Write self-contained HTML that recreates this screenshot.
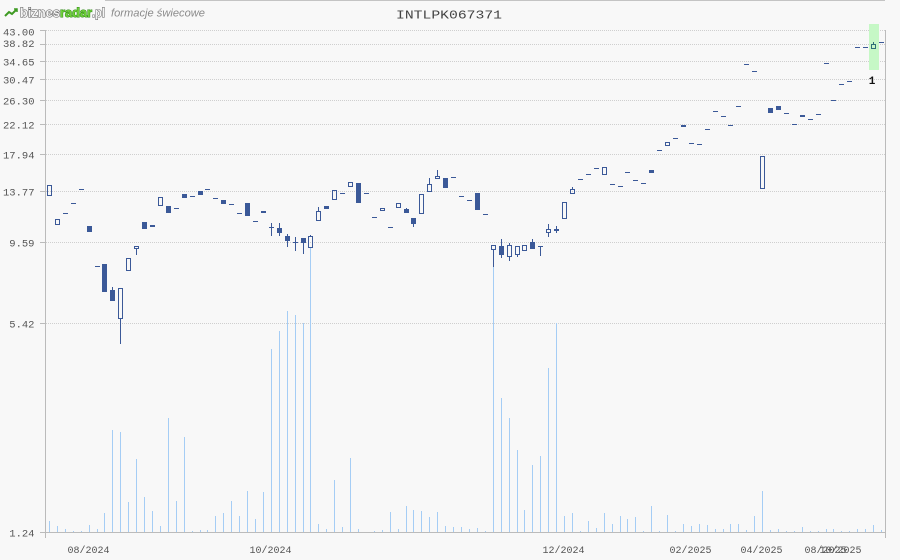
<!DOCTYPE html>
<html><head><meta charset="utf-8"><style>
html,body{margin:0;padding:0;background:#f8f8f8;}
svg{display:block;}
.m{font-family:"Liberation Mono","DejaVu Sans Mono",monospace;fill:#555;}
</style></head><body>
<svg width="900" height="560" viewBox="0 0 900 560" xmlns="http://www.w3.org/2000/svg">
<rect x="0" y="0" width="900" height="560" fill="#f8f8f8"/>
<rect x="105" y="0" width="780" height="1" fill="#c4c4c4"/>
<polyline points="5,16 9,12 12,14 17,9" fill="none" stroke="#3e9a22" stroke-width="2"/>
<polyline points="14,9 17,9 17,12" fill="none" stroke="#3e9a22" stroke-width="1.5"/>
<text x="20" y="17" font-family="Liberation Sans, sans-serif" font-weight="bold" font-size="12.5" fill="#f4f4f4" stroke="#555" stroke-width="1" paint-order="stroke" textLength="40" lengthAdjust="spacingAndGlyphs">biznes</text>
<text x="60" y="17" font-family="Liberation Sans, sans-serif" font-weight="bold" font-size="12.5" fill="#6fd03a" stroke="#2f8a16" stroke-width="1" paint-order="stroke" textLength="32" lengthAdjust="spacingAndGlyphs">radar</text>
<text x="92" y="17" font-family="Liberation Sans, sans-serif" font-weight="bold" font-size="12.5" fill="#f4f4f4" stroke="#555" stroke-width="1" paint-order="stroke" textLength="13" lengthAdjust="spacingAndGlyphs">.pl</text>
<text x="111" y="16.5" font-family="Liberation Sans, sans-serif" font-style="italic" font-size="11" fill="#8a8a8a" textLength="94" lengthAdjust="spacingAndGlyphs">formacje świecowe</text>
<text x="396" y="18.5" font-family="Liberation Mono, DejaVu Sans Mono, monospace" font-size="12" fill="#444" textLength="106" lengthAdjust="spacingAndGlyphs">INTLPK067371</text>

<g stroke="#cfcfcf" stroke-width="1" stroke-dasharray="1,1" shape-rendering="crispEdges">
<line x1="46" y1="30.5" x2="885" y2="30.5"/>
<line x1="46" y1="44.5" x2="885" y2="44.5"/>
<line x1="46" y1="61.5" x2="885" y2="61.5"/>
<line x1="46" y1="79.5" x2="885" y2="79.5"/>
<line x1="46" y1="100.5" x2="885" y2="100.5"/>
<line x1="46" y1="124.5" x2="885" y2="124.5"/>
<line x1="46" y1="154.5" x2="885" y2="154.5"/>
<line x1="46" y1="191.5" x2="885" y2="191.5"/>
<line x1="46" y1="242.5" x2="885" y2="242.5"/>
<line x1="46" y1="323.5" x2="885" y2="323.5"/>
</g>

<g fill="#bbbbbb" shape-rendering="crispEdges">
<rect x="45" y="30" width="1" height="508"/>
<rect x="885" y="30" width="1" height="508"/>
<rect x="40" y="532" width="846" height="1"/>
<rect x="40" y="30" width="5" height="1"/>
<rect x="40" y="44" width="5" height="1"/>
<rect x="40" y="61" width="5" height="1"/>
<rect x="40" y="79" width="5" height="1"/>
<rect x="40" y="100" width="5" height="1"/>
<rect x="40" y="124" width="5" height="1"/>
<rect x="40" y="154" width="5" height="1"/>
<rect x="40" y="191" width="5" height="1"/>
<rect x="40" y="242" width="5" height="1"/>
<rect x="40" y="323" width="5" height="1"/>
</g>

<g class="m" font-size="10.5" text-anchor="end">
<text x="34.5" y="35.5">43.00</text>
<text x="34.5" y="47">38.82</text>
<text x="34.5" y="65.5">34.65</text>
<text x="34.5" y="83.5">30.47</text>
<text x="34.5" y="104.5">26.30</text>
<text x="34.5" y="128.5">22.12</text>
<text x="34.5" y="158.5">17.94</text>
<text x="34.5" y="195.5">13.77</text>
<text x="34.5" y="246.5">9.59</text>
<text x="34.5" y="327.5">5.42</text>
<text x="34.5" y="536.5">1.24</text>
</g>

<g class="m" font-size="10" text-anchor="middle">
<text x="88.5" y="553">08/2024</text>
<text x="270.5" y="553">10/2024</text>
<text x="563.5" y="553">12/2024</text>
<text x="690.5" y="553">02/2025</text>
<text x="761.5" y="553">04/2025</text>
<text x="825.5" y="553">08/2025</text>
<text x="840.5" y="553">10/2025</text>
</g>

<g fill="#a5cdf5" shape-rendering="crispEdges">
<rect x="49" y="521" width="1" height="11"/>
<rect x="57" y="526" width="1" height="6"/>
<rect x="65" y="529" width="1" height="3"/>
<rect x="73" y="531" width="1" height="1"/>
<rect x="81" y="531" width="1" height="1"/>
<rect x="89" y="525" width="1" height="7"/>
<rect x="97" y="529" width="1" height="3"/>
<rect x="104" y="513" width="1" height="19"/>
<rect x="112" y="430" width="1" height="102"/>
<rect x="120" y="432" width="1" height="100"/>
<rect x="128" y="502" width="1" height="30"/>
<rect x="136" y="459" width="1" height="73"/>
<rect x="144" y="497" width="1" height="35"/>
<rect x="152" y="511" width="1" height="21"/>
<rect x="160" y="526" width="1" height="6"/>
<rect x="168" y="418" width="1" height="114"/>
<rect x="176" y="501" width="1" height="31"/>
<rect x="184" y="437" width="1" height="95"/>
<rect x="192" y="531" width="1" height="1"/>
<rect x="200" y="530" width="1" height="2"/>
<rect x="207" y="530" width="1" height="2"/>
<rect x="215" y="516" width="1" height="16"/>
<rect x="223" y="513" width="1" height="19"/>
<rect x="231" y="501" width="1" height="31"/>
<rect x="239" y="516" width="1" height="16"/>
<rect x="247" y="491" width="1" height="41"/>
<rect x="255" y="519" width="1" height="13"/>
<rect x="263" y="492" width="1" height="40"/>
<rect x="271" y="349" width="1" height="183"/>
<rect x="279" y="331" width="1" height="201"/>
<rect x="287" y="311" width="1" height="221"/>
<rect x="295" y="315" width="1" height="217"/>
<rect x="303" y="323" width="1" height="209"/>
<rect x="310" y="248" width="1" height="284"/>
<rect x="318" y="524" width="1" height="8"/>
<rect x="326" y="529" width="1" height="3"/>
<rect x="334" y="480" width="1" height="52"/>
<rect x="342" y="527" width="1" height="5"/>
<rect x="350" y="458" width="1" height="74"/>
<rect x="358" y="529" width="1" height="3"/>
<rect x="374" y="531" width="1" height="1"/>
<rect x="382" y="530" width="1" height="2"/>
<rect x="390" y="512" width="1" height="20"/>
<rect x="398" y="529" width="1" height="3"/>
<rect x="406" y="506" width="1" height="26"/>
<rect x="413" y="510" width="1" height="22"/>
<rect x="421" y="511" width="1" height="21"/>
<rect x="429" y="517" width="1" height="15"/>
<rect x="437" y="512" width="1" height="20"/>
<rect x="445" y="526" width="1" height="6"/>
<rect x="453" y="527" width="1" height="5"/>
<rect x="461" y="527" width="1" height="5"/>
<rect x="469" y="529" width="1" height="3"/>
<rect x="477" y="528" width="1" height="4"/>
<rect x="485" y="531" width="1" height="1"/>
<rect x="493" y="267" width="1" height="265"/>
<rect x="501" y="398" width="1" height="134"/>
<rect x="509" y="418" width="1" height="114"/>
<rect x="517" y="450" width="1" height="82"/>
<rect x="524" y="510" width="1" height="22"/>
<rect x="532" y="465" width="1" height="67"/>
<rect x="540" y="456" width="1" height="76"/>
<rect x="548" y="368" width="1" height="164"/>
<rect x="556" y="323" width="1" height="209"/>
<rect x="564" y="516" width="1" height="16"/>
<rect x="572" y="513" width="1" height="19"/>
<rect x="580" y="531" width="1" height="1"/>
<rect x="588" y="521" width="1" height="11"/>
<rect x="596" y="528" width="1" height="4"/>
<rect x="604" y="513" width="1" height="19"/>
<rect x="612" y="524" width="1" height="8"/>
<rect x="620" y="516" width="1" height="16"/>
<rect x="627" y="519" width="1" height="13"/>
<rect x="635" y="517" width="1" height="15"/>
<rect x="643" y="531" width="1" height="1"/>
<rect x="651" y="506" width="1" height="26"/>
<rect x="659" y="531" width="1" height="1"/>
<rect x="667" y="515" width="1" height="17"/>
<rect x="675" y="531" width="1" height="1"/>
<rect x="683" y="524" width="1" height="8"/>
<rect x="691" y="526" width="1" height="6"/>
<rect x="699" y="524" width="1" height="8"/>
<rect x="707" y="525" width="1" height="7"/>
<rect x="715" y="529" width="1" height="3"/>
<rect x="723" y="529" width="1" height="3"/>
<rect x="730" y="524" width="1" height="8"/>
<rect x="738" y="524" width="1" height="8"/>
<rect x="746" y="530" width="1" height="2"/>
<rect x="754" y="516" width="1" height="16"/>
<rect x="762" y="491" width="1" height="41"/>
<rect x="770" y="530" width="1" height="2"/>
<rect x="778" y="529" width="1" height="3"/>
<rect x="786" y="531" width="1" height="1"/>
<rect x="794" y="531" width="1" height="1"/>
<rect x="802" y="527" width="1" height="5"/>
<rect x="810" y="531" width="1" height="1"/>
<rect x="818" y="531" width="1" height="1"/>
<rect x="826" y="529" width="1" height="3"/>
<rect x="833" y="529" width="1" height="3"/>
<rect x="841" y="531" width="1" height="1"/>
<rect x="849" y="531" width="1" height="1"/>
<rect x="857" y="529" width="1" height="3"/>
<rect x="865" y="529" width="1" height="3"/>
<rect x="873" y="525" width="1" height="7"/>
<rect x="881" y="530" width="1" height="2"/>
</g>

<rect x="869" y="24" width="10" height="46" fill="#c6f8c6"/>

<g fill="#3b5998" shape-rendering="crispEdges">
<rect x="63" y="213" width="5" height="1"/>
<rect x="71" y="203" width="5" height="1"/>
<rect x="79" y="189" width="5" height="1"/>
<rect x="87" y="226" width="5" height="6"/>
<rect x="95" y="266" width="5" height="1"/>
<rect x="102" y="264" width="5" height="28"/>
<rect x="110" y="290" width="5" height="11"/>
<rect x="112" y="287" width="1" height="3"/>
<rect x="120" y="319" width="1" height="25"/>
<rect x="136" y="249" width="1" height="6"/>
<rect x="142" y="222" width="5" height="7"/>
<rect x="150" y="225" width="5" height="2"/>
<rect x="166" y="206" width="5" height="7"/>
<rect x="174" y="208" width="5" height="1"/>
<rect x="182" y="194" width="5" height="4"/>
<rect x="190" y="196" width="5" height="1"/>
<rect x="198" y="191" width="5" height="4"/>
<rect x="205" y="189" width="5" height="1"/>
<rect x="213" y="198" width="5" height="1"/>
<rect x="221" y="200" width="5" height="4"/>
<rect x="229" y="204" width="5" height="1"/>
<rect x="237" y="213" width="5" height="1"/>
<rect x="245" y="203" width="5" height="13"/>
<rect x="253" y="221" width="5" height="1"/>
<rect x="261" y="211" width="5" height="2"/>
<rect x="269" y="227" width="5" height="1"/>
<rect x="271" y="223" width="1" height="13"/>
<rect x="277" y="228" width="5" height="5"/>
<rect x="279" y="223" width="1" height="13"/>
<rect x="285" y="236" width="5" height="5"/>
<rect x="287" y="234" width="1" height="13"/>
<rect x="293" y="242" width="5" height="1"/>
<rect x="295" y="237" width="1" height="14"/>
<rect x="301" y="238" width="5" height="5"/>
<rect x="303" y="238" width="1" height="16"/>
<rect x="310" y="235" width="1" height="1"/>
<rect x="318" y="207" width="1" height="4"/>
<rect x="324" y="206" width="5" height="3"/>
<rect x="340" y="193" width="5" height="1"/>
<rect x="356" y="183" width="5" height="20"/>
<rect x="364" y="193" width="5" height="1"/>
<rect x="372" y="217" width="5" height="1"/>
<rect x="388" y="227" width="5" height="1"/>
<rect x="404" y="209" width="5" height="4"/>
<rect x="406" y="208" width="1" height="1"/>
<rect x="411" y="218" width="5" height="6"/>
<rect x="413" y="223" width="1" height="4"/>
<rect x="429" y="178" width="1" height="6"/>
<rect x="437" y="170" width="1" height="6"/>
<rect x="443" y="178" width="5" height="10"/>
<rect x="451" y="177" width="5" height="1"/>
<rect x="459" y="196" width="5" height="1"/>
<rect x="467" y="200" width="5" height="1"/>
<rect x="475" y="193" width="5" height="17"/>
<rect x="483" y="214" width="5" height="1"/>
<rect x="493" y="250" width="1" height="17"/>
<rect x="499" y="246" width="5" height="9"/>
<rect x="501" y="239" width="1" height="19"/>
<rect x="509" y="243" width="1" height="2"/>
<rect x="509" y="257" width="1" height="4"/>
<rect x="517" y="255" width="1" height="2"/>
<rect x="530" y="242" width="5" height="7"/>
<rect x="532" y="239" width="1" height="3"/>
<rect x="538" y="246" width="5" height="1"/>
<rect x="540" y="246" width="1" height="10"/>
<rect x="548" y="224" width="1" height="5"/>
<rect x="548" y="233" width="1" height="4"/>
<rect x="554" y="229" width="5" height="2"/>
<rect x="556" y="226" width="1" height="7"/>
<rect x="572" y="187" width="1" height="2"/>
<rect x="578" y="179" width="5" height="1"/>
<rect x="586" y="174" width="5" height="1"/>
<rect x="594" y="168" width="5" height="1"/>
<rect x="610" y="184" width="5" height="1"/>
<rect x="618" y="186" width="5" height="1"/>
<rect x="625" y="172" width="5" height="1"/>
<rect x="633" y="180" width="5" height="1"/>
<rect x="641" y="183" width="5" height="1"/>
<rect x="649" y="170" width="5" height="3"/>
<rect x="657" y="150" width="5" height="1"/>
<rect x="673" y="138" width="5" height="1"/>
<rect x="681" y="125" width="5" height="2"/>
<rect x="689" y="143" width="5" height="1"/>
<rect x="697" y="144" width="5" height="1"/>
<rect x="705" y="129" width="5" height="1"/>
<rect x="713" y="111" width="5" height="1"/>
<rect x="721" y="116" width="5" height="1"/>
<rect x="728" y="125" width="5" height="1"/>
<rect x="736" y="106" width="5" height="1"/>
<rect x="744" y="64" width="5" height="1"/>
<rect x="752" y="71" width="5" height="1"/>
<rect x="768" y="108" width="5" height="5"/>
<rect x="776" y="106" width="5" height="4"/>
<rect x="784" y="113" width="5" height="1"/>
<rect x="792" y="124" width="5" height="1"/>
<rect x="800" y="115" width="5" height="2"/>
<rect x="808" y="119" width="5" height="1"/>
<rect x="816" y="114" width="5" height="1"/>
<rect x="824" y="63" width="5" height="1"/>
<rect x="831" y="100" width="5" height="1"/>
<rect x="839" y="84" width="5" height="1"/>
<rect x="847" y="81" width="5" height="1"/>
<rect x="855" y="47" width="5" height="1"/>
<rect x="863" y="47" width="5" height="1"/>
<rect x="879" y="42" width="5" height="1"/>
</g>

<g fill="none" stroke="#3b5998" stroke-width="1" shape-rendering="crispEdges">
<rect x="47.5" y="185.5" width="4" height="10"/>
<rect x="55.5" y="219.5" width="4" height="5"/>
<rect x="118.5" y="288.5" width="4" height="30"/>
<rect x="126.5" y="258.5" width="4" height="12"/>
<rect x="134.5" y="246.5" width="4" height="2"/>
<rect x="158.5" y="197.5" width="4" height="8"/>
<rect x="308.5" y="236.5" width="4" height="11"/>
<rect x="316.5" y="211.5" width="4" height="9"/>
<rect x="332.5" y="190.5" width="4" height="9"/>
<rect x="348.5" y="182.5" width="4" height="4"/>
<rect x="380.5" y="208.5" width="4" height="2"/>
<rect x="396.5" y="203.5" width="4" height="4"/>
<rect x="419.5" y="194.5" width="4" height="19"/>
<rect x="427.5" y="184.5" width="4" height="7"/>
<rect x="435.5" y="176.5" width="4" height="2"/>
<rect x="491.5" y="245.5" width="4" height="4"/>
<rect x="507.5" y="245.5" width="4" height="11"/>
<rect x="515.5" y="246.5" width="4" height="8"/>
<rect x="522.5" y="245.5" width="4" height="5"/>
<rect x="546.5" y="229.5" width="4" height="3"/>
<rect x="562.5" y="202.5" width="4" height="16"/>
<rect x="570.5" y="189.5" width="4" height="4"/>
<rect x="602.5" y="167.5" width="4" height="7"/>
<rect x="665.5" y="142.5" width="4" height="3"/>
<rect x="760.5" y="156.5" width="4" height="32"/>
<rect x="871.5" y="44.5" width="4" height="4" stroke="#2f6f78"/>
</g>
<rect x="873" y="42" width="1" height="2" fill="#2f6f78"/>

<text x="872" y="84" text-anchor="middle" font-family="Liberation Mono, monospace" font-weight="bold" font-size="11" fill="#111">1</text>
</svg>
</body></html>
